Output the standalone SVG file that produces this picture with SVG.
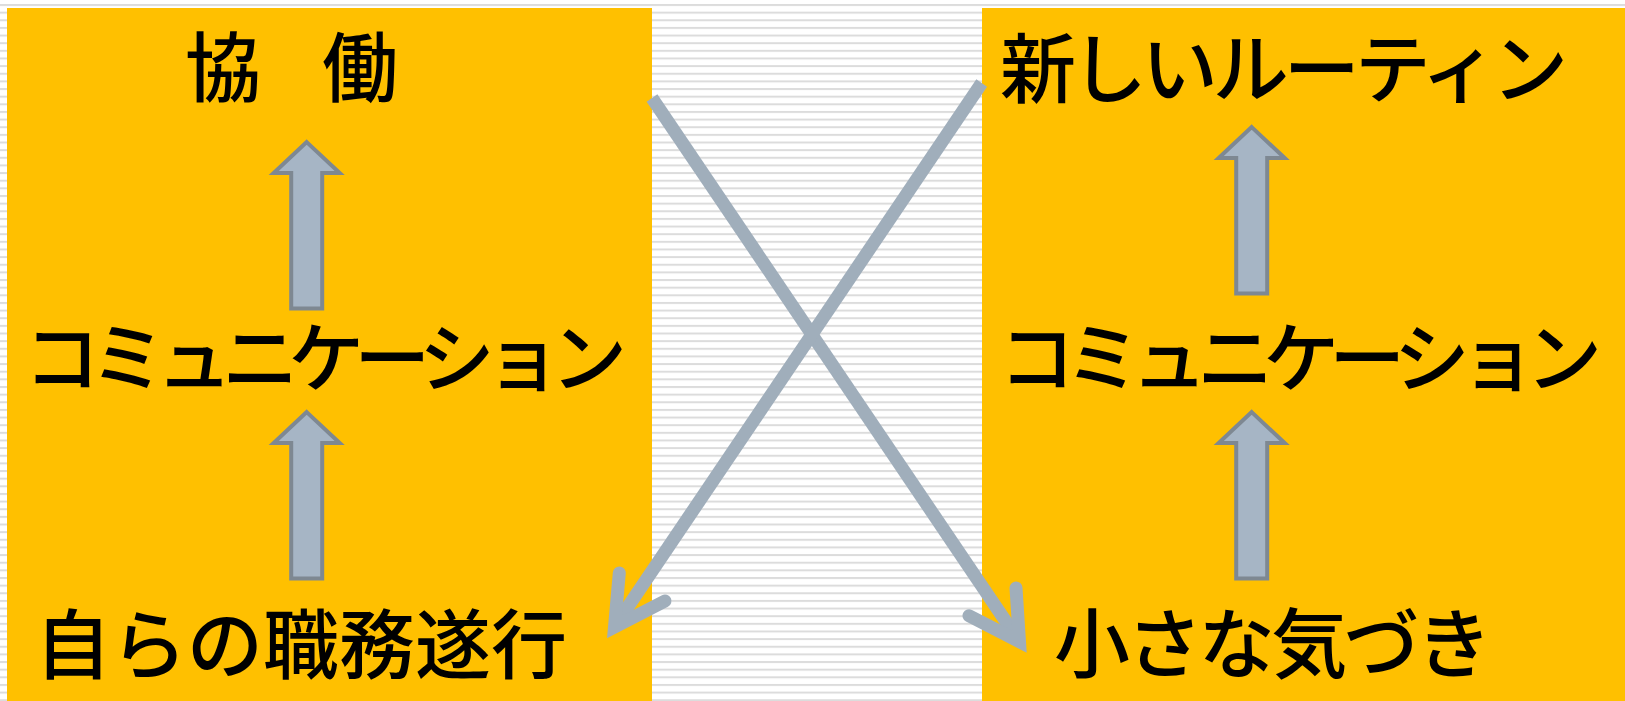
<svg xmlns="http://www.w3.org/2000/svg" width="1625" height="701" viewBox="0 0 1625 701">
  <style>
    .box { fill: #FFC000; }
    .lbl { font-family: "Noto Sans CJK JP", "Noto Sans", sans-serif; font-size: 76px; font-weight: 500; fill: #000000; }
    .blk { fill: #A6B5C5; stroke: #7E8892; stroke-width: 4; stroke-linejoin: miter; }
    .diag { fill: none; stroke: #A0AEBB; stroke-width: 13; stroke-linecap: butt; }
    .head { fill: none; stroke: #A0AEBB; stroke-width: 13; stroke-linecap: round; stroke-linejoin: miter; stroke-miterlimit: 10; }
  </style>
  <defs>
    <pattern id="stripes" patternUnits="userSpaceOnUse" x="0" y="4" width="20" height="7.64">
      <rect x="0" y="0" width="20" height="2" fill="#DCDCDC"/>
    </pattern>
    <path id="uparrow" d="M0,0 L33,31 L15.5,31 L15.5,166.5 L-15.5,166.5 L-15.5,31 L-33,31 Z"/>
  </defs>

  <rect x="0" y="0" width="1625" height="701" fill="#FFFFFF"/>
  <rect x="0" y="0" width="1625" height="701" fill="url(#stripes)"/>

  <g id="left-panel">
    <rect class="box" x="7" y="8" width="645" height="693"/>
  </g>
  <g id="right-panel">
    <rect class="box" x="982" y="8" width="643" height="693"/>
  </g>

  <g id="node-kyodo">
    <text class="lbl" x="185" y="96" textLength="213" lengthAdjust="spacing">協　働</text>
  </g>
  <g id="node-comm-left">
    <text class="lbl" x="24" y="386" textLength="603" lengthAdjust="spacing">コミュニケーション</text>
  </g>
  <g id="node-shokumu">
    <text class="lbl" x="35" y="673" textLength="532" lengthAdjust="spacing">自らの職務遂行</text>
  </g>
  <g id="node-routine">
    <text class="lbl" x="1000" y="97" textLength="568" lengthAdjust="spacing">新しいルーティン</text>
  </g>
  <g id="node-comm-right">
    <text class="lbl" x="999" y="386" textLength="603" lengthAdjust="spacing">コミュニケーション</text>
  </g>
  <g id="node-kizuki">
    <text class="lbl" x="1054" y="672" textLength="438" lengthAdjust="spacing">小さな気づき</text>
  </g>

  <g id="connectors">
    <use href="#uparrow" class="blk" x="306.7" y="142.1"/>
    <use href="#uparrow" class="blk" x="306.7" y="412.1"/>
    <use href="#uparrow" class="blk" x="1251.7" y="127.1"/>
    <use href="#uparrow" class="blk" x="1251.7" y="412.1"/>

    <line class="diag" x1="652" y1="98" x2="1017" y2="638"/>
    <polyline class="head" points="1016,588 1019.5,641.7 969,615.7"/>

    <line class="diag" x1="981.7" y1="83" x2="617" y2="623"/>
    <polyline class="head" points="619.3,573 614.5,627.1 665,601"/>
  </g>
</svg>
